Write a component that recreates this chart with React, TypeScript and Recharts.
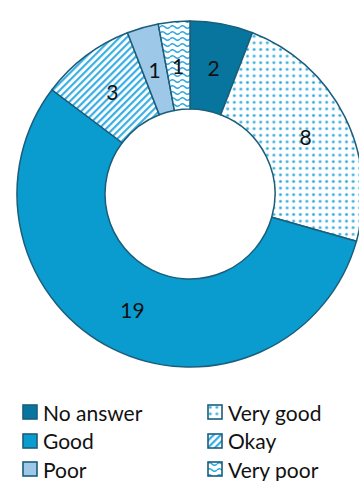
import { PieChart, Pie, Cell, Legend } from 'recharts';

const categories = ['No answer', 'Very good', 'Good', 'Okay', 'Poor', 'Very poor'];
const counts = [2, 8, 19, 3, 1, 1];
const fills = ['#08759F', 'url(#dots)', '#0A9BCF', 'url(#stripes)', '#9DC8E8', 'url(#waves)'];

// legend reads row by row, two columns
const legendOrder = ['No answer', 'Very good', 'Good', 'Okay', 'Poor', 'Very poor'];

const data = categories.map((name, i) => ({ name, value: counts[i], fill: fills[i] }));

const RAD = Math.PI / 180;
const FONT = 'Lato, "Open Sans", sans-serif';
const EDGE = '#1B5E7B';

const renderLabel = (props: any) => {
  const { cx, cy, midAngle, innerRadius, outerRadius, value } = props;
  const r = (innerRadius + outerRadius) / 2;
  const x = cx + r * Math.cos(-midAngle * RAD);
  const y = cy + r * Math.sin(-midAngle * RAD);
  return (
    <text x={x} y={y} textAnchor="middle" dominantBaseline="central" fill="#111" fontSize={21} fontFamily={FONT}>
      {value}
    </text>
  );
};

const LegendBox = () => (
  <div
    style={{
      display: 'grid',
      gridTemplateColumns: '185px 150px',
      gridAutoRows: '28.5px',
      paddingLeft: 22,
      fontFamily: FONT,
      fontSize: 21,
      color: '#111',
    }}
  >
    {legendOrder.map((name) => {
      const idx = categories.indexOf(name);
      return (
        <div key={name} style={{ display: 'flex', alignItems: 'center', height: 28.5 }}>
          <svg width={16} height={16} style={{ marginRight: 5 }}>
            <rect x={1} y={1} width={14} height={14} fill={fills[idx]} stroke={EDGE} strokeWidth={1.6} />
          </svg>
          <span style={{ lineHeight: 1 }}>{name}</span>
        </div>
      );
    })}
  </div>
);

export default function App() {
  return (
    <div style={{ position: 'absolute', left: 0, top: 0 }}>
      <PieChart width={359} height={481}>
        <defs>
          <pattern id="dots" width={6.6} height={6.6} patternUnits="userSpaceOnUse">
            <rect width={6.6} height={6.6} fill="#fff" />
            <circle cx={3.3} cy={3.3} r={1.7} fill="#8fd0ef" />
            <circle cx={3.3} cy={3.3} r={1} fill="#1fa3dd" />
          </pattern>
          <pattern id="stripes" width={5} height={5} patternUnits="userSpaceOnUse" patternTransform="rotate(45)">
            <rect width={5} height={5} fill="#fff" />
            <rect width={2.2} height={5} fill="#3aaee2" />
          </pattern>
          <pattern id="waves" width={10} height={6} patternUnits="userSpaceOnUse">
            <rect width={10} height={6} fill="#fff" />
            <path d="M0 3 Q2.5 0.5 5 3 T10 3" fill="none" stroke="#2aa7df" strokeWidth={1.6} />
          </pattern>
        </defs>
        <Pie
          data={data}
          dataKey="value"
          nameKey="name"
          cx={185}
          cy={189}
          innerRadius={85}
          outerRadius={173}
          startAngle={90}
          endAngle={-270}
          stroke={EDGE}
          strokeWidth={1.5}
          label={renderLabel}
          labelLine={false}
          isAnimationActive={false}
        >
          {data.map((d) => (
            <Cell key={d.name} fill={d.fill} />
          ))}
        </Pie>
        <Legend
          content={() => <LegendBox />}
          wrapperStyle={{ position: 'absolute', left: 0, top: 398, width: 359 }}
        />
      </PieChart>
    </div>
  );
}
